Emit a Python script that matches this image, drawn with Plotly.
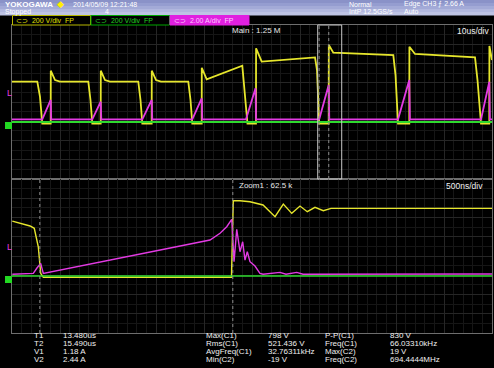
import plotly.graph_objects as go

W, H = 494, 368
FONT = "Liberation Sans, Arial, sans-serif"

# ---- oscilloscope channel settings ----
CH1_SCALE = 200.0    # V/div
CH2_SCALE = 200.0    # V/div
CH3_SCALE = 2.00     # A/div
GROUND_DIV = -1.04   # ground position (div from screen centre)
TRIG_LEVEL = 2.66    # A (CH3 edge trigger)

MAIN_RANGE = [-50.5, 49.5]   # us  (10 us/div)
ZOOM_RANGE = [13.19, 18.19]  # us  (500 ns/div)
T1 = 13.480
T2 = 15.490

# ---- Main window (10 us/div) ----
main_ch1_t = [-50.5, -45.23, -44.67, -44.19, -42.44,
              -42.42, -41.54, -40.5, -34.6, -34.15, -33.77, -32.02,
              -32.0, -31.13, -30.08, -24.19, -23.73, -23.35, -21.40,
              -21.38, -20.5, -19.46, -13.77, -13.31, -12.94, -10.98,
              -10.96, -9.94, -2.52, -2.06, -1.44, 0.33,
              0.35, 1.52, 12.63, 13.04, 13.5, 15.48,
              15.50, 16.44, 28.94, 29.4, 29.92, 32.27,
              32.29, 33.46, 45.96, 46.48, 47.21, 48.94,
              48.96, 49.5]
main_ch1_v = [419, 419, 263, -16, -16,
              533, 436, 419, 419, 229, -16, -16,
              533, 436, 419, 419, 229, -16, -16,
              533, 436, 419, 419, 229, -16, -16,
              564, 444, 585, 332, -16, -16,
              766, 627, 672, 540, -16, -16,
              800, 720, 696, 488, -16, -16,
              782, 707, 672, 436, -16, -16,
              790, 644]

main_ch2_t = [-50.5, 49.5]
main_ch2_v = [0, 0]

main_ch3_t = [-50.5, -44.19, -42.44, -42.33,
              -33.77, -32.02, -31.9,
              -23.35, -21.40, -21.28,
              -12.94, -10.98, -10.86,
              -1.75, 0.23, 0.35,
              13.5, 15.48, 15.6,
              29.92, 32.27, 32.4,
              47.21, 48.94, 49.06, 49.5]
main_ch3_a = [0.28, 0.28, 2.29, 0.28,
              0.28, 2.11, 0.28,
              0.28, 2.29, 0.28,
              0.28, 2.46, 0.28,
              0.28, 3.50, 0.28,
              0.28, 3.84, 0.28,
              0.28, 4.36, 0.28,
              0.28, 4.19, 0.28, 0.28]

# ---- Zoom window (500 ns/div) ----
zoom_ch1_t = [13.193, 13.378, 13.422, 13.464, 13.489, 13.516, 15.476,
              15.495, 15.565, 15.669, 15.805, 15.93, 16.016, 16.104,
              16.19, 16.266, 16.346, 16.433, 16.513, 18.19]
zoom_ch1_v = [571, 520, 496, 304, 28, -13, -13,
              782, 782, 772, 738, 616, 748, 651,
              727, 668, 714, 678, 703, 703]

zoom_ch2_t = [13.19, 18.19]
zoom_ch2_v = [0, 0]

zoom_ch3_t = [13.193, 13.412, 13.45, 13.489, 13.516, 14.454, 15.2525,
              15.357, 15.427, 15.479, 15.503, 15.531, 15.565, 15.593,
              15.617, 15.641, 15.669, 15.721, 15.773, 15.805, 15.982,
              16.044, 16.156, 16.221, 18.19]
zoom_ch3_a = [0.18, 0.28, 0.83, 1.32, 0.28, 2.18, 3.74,
              4.44, 5.12, 5.89, 1.49, 4.85, 2.52, 3.56,
              1.66, 2.52, 1.49, 1.04, 0.28, 0.18, 0.38,
              0.18, 0.38, 0.18, 0.21]

# ---- measurement readouts ----
cursor_labels = ["T1", "T2", "V1", "V2"]
cursor_values = ["13.480us", "15.490us", "1.18 A", "2.44 A"]
meas_a_labels = ["Max(C1)", "Rms(C1)", "AvgFreq(C1)", "Min(C2)"]
meas_a_values = ["798 V", "521.436 V", "32.76311kHz", "-19 V"]
meas_b_labels = ["P-P(C1)", "Freq(C1)", "Max(C2)", "Freq(C2)"]
meas_b_values = ["830 V", "66.03310kHz", "19 V", "694.4444MHz"]

YELLOW = "#e6e62c"
GREEN = "#2ed82e"
MAGENTA = "#e23ae2"


def to_div(vals, scale):
    return [v / scale + GROUND_DIV for v in vals]


fig = go.Figure()


def add_wave(t, vals, scale, color, xa, ya, width):
    fig.add_trace(go.Scatter(x=t, y=to_div(vals, scale), mode="lines",
                             line=dict(color=color, width=width),
                             xaxis=xa, yaxis=ya, hoverinfo="skip",
                             showlegend=False))


add_wave(main_ch1_t, main_ch1_v, CH1_SCALE, YELLOW, "x", "y", 1.8)
add_wave(main_ch3_t, main_ch3_a, CH3_SCALE, MAGENTA, "x", "y", 1.8)
add_wave(main_ch2_t, main_ch2_v, CH2_SCALE, GREEN, "x", "y", 1.8)
add_wave(zoom_ch1_t, zoom_ch1_v, CH1_SCALE, YELLOW, "x2", "y2", 1.4)
add_wave(zoom_ch3_t, zoom_ch3_a, CH3_SCALE, MAGENTA, "x2", "y2", 1.4)
add_wave(zoom_ch2_t, zoom_ch2_v, CH2_SCALE, GREEN, "x2", "y2", 1.4)


def px(x):
    return x / W


def py(y):
    return 1 - y / H


XDOM = [px(12), px(492)]
grid_major = "#262626"
grid_minor = "#161616"


def xax(rng, dt, anchor):
    return dict(domain=XDOM, range=rng, anchor=anchor, showticklabels=False,
                ticks="", dtick=dt, tick0=rng[0], showgrid=True,
                gridcolor=grid_major, gridwidth=1, zeroline=False,
                showline=True, linecolor="#6e6e6e", linewidth=1, mirror=True,
                minor=dict(dtick=dt / 5, tick0=rng[0], showgrid=True,
                           gridcolor=grid_minor, gridwidth=1),
                fixedrange=True)


def yax(dom, anchor):
    return dict(domain=dom, range=[-4, 4], anchor=anchor, showticklabels=False,
                ticks="", dtick=1, tick0=-4, showgrid=True,
                gridcolor=grid_major, gridwidth=1, zeroline=False,
                showline=True, linecolor="#6e6e6e", linewidth=1, mirror=True,
                minor=dict(dtick=0.5, tick0=-4, showgrid=True,
                           gridcolor=grid_minor, gridwidth=1),
                fixedrange=True)


shapes = []
# header gradient
bands = [(0, 3, "#8a92c8"), (3, 6, "#959dd0"), (6, 9, "#a3aad7"),
         (9, 12, "#b1b7de"), (12, 15.5, "#bec3e4")]
for y0, y1, c in bands:
    shapes.append(dict(type="rect", xref="paper", yref="paper", x0=0, x1=1,
                       y0=py(y1), y1=py(y0), fillcolor=c, line=dict(width=0),
                       layer="below"))
# channel boxes
shapes.append(dict(type="rect", xref="paper", yref="paper", x0=px(12.5), x1=px(90.5),
                   y0=py(25), y1=py(15.5), fillcolor="#000",
                   line=dict(color="#b8b800", width=1)))
shapes.append(dict(type="rect", xref="paper", yref="paper", x0=px(91), x1=px(169.5),
                   y0=py(25), y1=py(15.5), fillcolor="#000",
                   line=dict(color="#00a800", width=1)))
shapes.append(dict(type="rect", xref="paper", yref="paper", x0=px(170), x1=px(249),
                   y0=py(25), y1=py(15.5), fillcolor="#e020e0",
                   line=dict(color="#e020e0", width=1)))
# zoom box in main window
shapes.append(dict(type="rect", xref="x", yref="y domain", x0=ZOOM_RANGE[0],
                   x1=ZOOM_RANGE[1], y0=0, y1=1,
                   line=dict(color="#c8c8c8", width=1)))
# cursors
for xa, ya in (("x", "y"), ("x2", "y2")):
    for tc in (T1, T2):
        shapes.append(dict(type="line", xref=xa, yref=ya + " domain", x0=tc, x1=tc,
                           y0=0, y1=1, line=dict(color="#8c8c8c", width=1, dash="dot")))
# ground markers (CH1/CH2)
for ya in ("y", "y2"):
    shapes.append(dict(type="rect", xref="paper", yref=ya, x0=px(5), x1=px(12),
                       y0=GROUND_DIV - 7 / 19.25, y1=GROUND_DIV,
                       fillcolor="#22d822", line=dict(color="#22d822", width=0)))


def txt(s, x, y, size=8, color="#f0f0f0", anchor="left", bold=False, yref="paper"):
    if bold:
        s = "<b>" + s + "</b>"
    return dict(text=s, x=px(x), y=(py(y) if yref == "paper" else y), xref="paper",
                yref=yref, xanchor=anchor, yanchor="middle", showarrow=False,
                borderpad=0, font=dict(size=size, color=color, family=FONT))


ann = [
    txt("YOKOGAWA", 4, 4, 8, "#ffffff", bold=True),
    txt("◆", 56, 4, 9, "#ffee00"),
    txt("2014/05/09 12:21:48", 72, 4, 7, "#ffffff"),
    txt("Stopped", 4, 11.5, 7, "#ffffff"),
    txt("4", 104, 11.5, 7, "#ffffff"),
    txt("Normal", 348, 4, 7, "#ffffff"),
    txt("IntP 12.5GS/s", 348, 11.5, 7, "#ffffff"),
    txt("Edge CH3 ⨍ 2.66 A", 403, 4, 7, "#ffffff"),
    txt("Auto", 403, 11.5, 7, "#ffffff"),
    txt("⊂⊃  200 V/div  FP", 15, 20.5, 7, "#e0e000"),
    txt("⊂⊃  200 V/div  FP", 94, 20.5, 7, "#20d020"),
    txt("⊂⊃  2.00 A/div  FP", 173, 20.5, 7, "#ffc8ff"),
    txt("Main : 1.25 M", 256, 31, 8, "#e8e8e8", anchor="center"),
    txt("10us/div", 490, 31, 8.5, "#f0f0f0", anchor="right"),
    txt("Zoom1 : 62.5 k", 266, 185.5, 8, "#e8e8e8", anchor="center"),
    txt("500ns/div", 484, 186, 8.5, "#f0f0f0", anchor="right"),
]
trig_div = TRIG_LEVEL / CH3_SCALE + GROUND_DIV
for ya in ("y", "y2"):
    ann.append(txt("L", 9, trig_div + 0.2, 9, MAGENTA, anchor="center", yref=ya))

rows = [335, 343, 351, 359]
for i, r in enumerate(rows):
    ann.append(txt(cursor_labels[i], 39, r, 8, anchor="center"))
    ann.append(txt(cursor_values[i], 62, r, 8))
    ann.append(txt(meas_a_labels[i], 205, r, 8))
    ann.append(txt(meas_a_values[i], 267, r, 8))
    ann.append(txt(meas_b_labels[i], 324, r, 8))
    ann.append(txt(meas_b_values[i], 389, r, 8))

fig.update_layout(
    width=W, height=H, margin=dict(l=0, r=0, t=0, b=0, pad=0),
    paper_bgcolor="#000000", plot_bgcolor="#000000",
    xaxis=xax(MAIN_RANGE, 10, "y"),
    yaxis=yax([py(179), py(25)], "x"),
    xaxis2=xax(ZOOM_RANGE, 0.5, "y2"),
    yaxis2=yax([py(333), py(179)], "x2"),
    shapes=shapes, annotations=ann, showlegend=False,
)

fig.write_html("out.html", config={"displayModeBar": False})
